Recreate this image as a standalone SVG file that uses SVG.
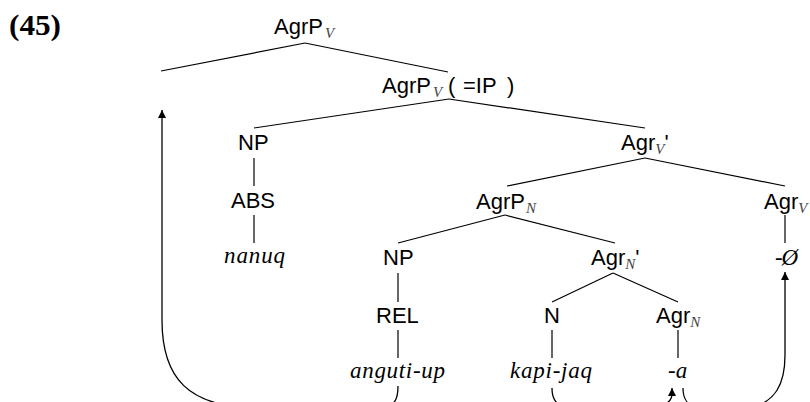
<svg xmlns="http://www.w3.org/2000/svg" width="810" height="402" viewBox="0 0 810 402">
<defs>
<style>
.lbl{font-family:"Liberation Sans",Arial,sans-serif;font-size:22px;fill:#000}
.sub{font-family:"Liberation Serif","Times New Roman",serif;font-style:italic;font-size:15px;fill:#444}
.it{font-family:"Liberation Serif","Times New Roman",serif;font-style:italic;font-size:23px;fill:#000}
.num{font-family:"Liberation Serif","Times New Roman",serif;font-weight:bold;font-size:29px;fill:#000}
.edge{stroke:#000;stroke-width:1.2;fill:none}
.mv{stroke:#000;stroke-width:1.3;fill:none}
</style>
<marker id="ah" viewBox="0 0 10 10" refX="10" refY="5" markerWidth="9" markerHeight="8" markerUnits="userSpaceOnUse" orient="auto">
<path d="M0,0 L10,5 L0,10 Z" fill="#000"/>
</marker>
</defs>
<rect width="810" height="402" fill="#fff"/>
<text class="num" x="9" y="35" textLength="52" lengthAdjust="spacingAndGlyphs">(45)</text>
<g id="edges">
<line class="edge" x1="305" y1="43" x2="161" y2="71"/>
<line class="edge" x1="305" y1="43" x2="448" y2="72"/>
<line class="edge" x1="449" y1="99" x2="254" y2="128"/>
<line class="edge" x1="449" y1="99" x2="645" y2="128"/>
<line class="edge" x1="254" y1="158" x2="254" y2="186"/>
<line class="edge" x1="254" y1="215" x2="254" y2="243"/>
<line class="edge" x1="645" y1="158" x2="507" y2="186"/>
<line class="edge" x1="645" y1="158" x2="785" y2="186"/>
<line class="edge" x1="505" y1="215" x2="398" y2="243"/>
<line class="edge" x1="505" y1="215" x2="615" y2="243"/>
<line class="edge" x1="785" y1="215" x2="785" y2="243"/>
<line class="edge" x1="398" y1="273" x2="398" y2="302"/>
<line class="edge" x1="398" y1="330" x2="398" y2="358"/>
<line class="edge" x1="613" y1="273" x2="552" y2="302"/>
<line class="edge" x1="613" y1="273" x2="678" y2="302"/>
<line class="edge" x1="552" y1="330" x2="552" y2="358"/>
<line class="edge" x1="678" y1="330" x2="678" y2="358"/>
</g>
<g id="movements">
<path class="mv" d="M398,386 C398,400 395,406 380,408 L250,408 C190,405 162,380 162,320 L162,110" marker-end="url(#ah)"/>
<path class="mv" d="M552,388 C552,398 555,404 565,407 L655,407 C668,405 672,400 672,394 L672,388" marker-end="url(#ah)"/>
<path class="mv" d="M683,388 C683,398 686,404 695,407 L750,408 C775,402 785,385 785,355 L785,272" marker-end="url(#ah)"/>
</g>
<g id="n-agrpv-top"><text class="lbl" x="274" y="34">AgrP<tspan class="sub" dx="2" dy="4">V</tspan></text></g>
<g id="n-agrpv-ip"><text class="lbl" x="382" y="93">AgrP<tspan class="sub" dx="2" dy="4">V</tspan><tspan x="448" dy="-4">(</tspan><tspan x="463">=IP</tspan><tspan x="507">)</tspan></text></g>
<g id="n-np1"><text class="lbl" x="238" y="150">NP</text></g>
<g id="n-agrv-bar"><text class="lbl" x="621" y="150">Agr<tspan class="sub" dy="4">V</tspan><tspan dy="-4">'</tspan></text></g>
<g id="n-abs"><text class="lbl" x="231" y="208">ABS</text></g>
<g id="n-agrpn"><text class="lbl" x="476" y="209">AgrP<tspan class="sub" dx="1" dy="4">N</tspan></text></g>
<g id="n-agrv"><text class="lbl" x="764" y="209">Agr<tspan class="sub" dy="4">V</tspan></text></g>
<g id="n-nanuq"><text class="it" x="224" y="263" textLength="61">nanuq</text></g>
<g id="n-np2"><text class="lbl" x="383" y="265">NP</text></g>
<g id="n-agrn-bar"><text class="lbl" x="591" y="265">Agr<tspan class="sub" dy="4">N</tspan><tspan dy="-4">'</tspan></text></g>
<g id="n-null"><text class="it" x="775" y="265" textLength="23">-Ø</text></g>
<g id="n-rel"><text class="lbl" x="376" y="323">REL</text></g>
<g id="n-n"><text class="lbl" x="544" y="323">N</text></g>
<g id="n-agrn"><text class="lbl" x="656" y="323">Agr<tspan class="sub" dy="4">N</tspan></text></g>
<g id="n-anguti"><text class="it" x="350" y="378" textLength="95">anguti-up</text></g>
<g id="n-kapi"><text class="it" x="510" y="378" textLength="82">kapi-jaq</text></g>
<g id="n-a"><text class="it" x="668" y="378">-a</text></g>
</svg>
